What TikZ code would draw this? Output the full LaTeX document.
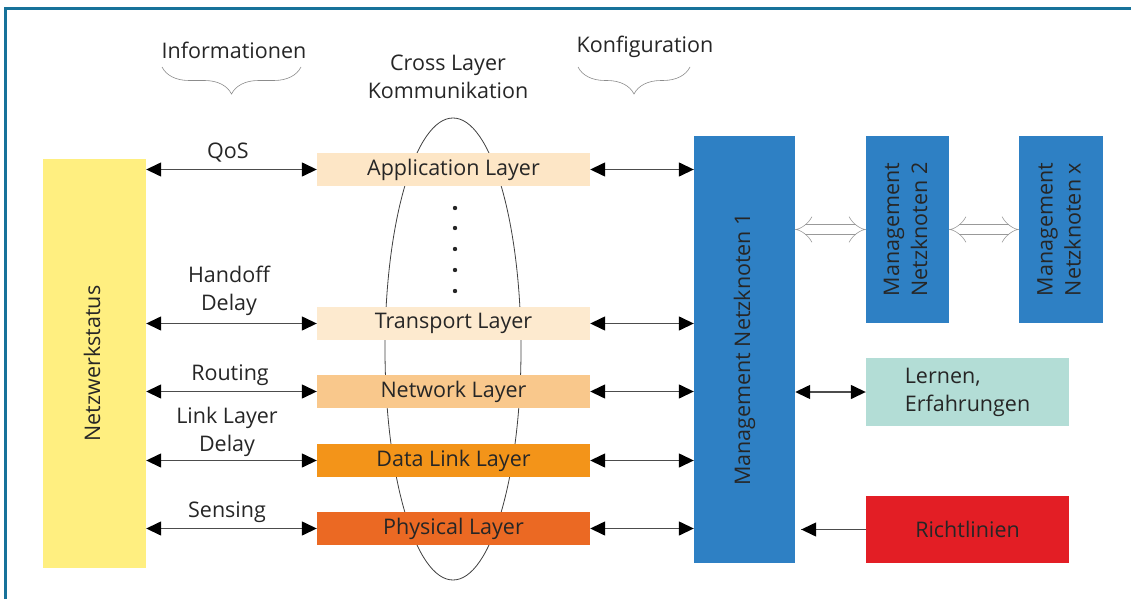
\documentclass[tikz,border=0pt]{standalone}
\usepackage{fontspec}
\setmainfont{Open Sans}
\usetikzlibrary{arrows.meta,decorations.pathreplacing}
\definecolor{framecol}{HTML}{17729A}
\definecolor{statcol}{HTML}{FFEF80}
\definecolor{appcol}{HTML}{FDE6C6}
\definecolor{transcol}{HTML}{FDEACF}
\definecolor{netcol}{HTML}{F9C88C}
\definecolor{linkcol}{HTML}{F39419}
\definecolor{phycol}{HTML}{EB6923}
\definecolor{mgmtcol}{HTML}{2E80C4}
\definecolor{learncol}{HTML}{B3DDD6}
\definecolor{rulecol}{HTML}{E31E25}
\tikzstyle{every node}=[font=\fontsize{21.5}{28}\selectfont, text=black!85]
\tikzstyle{layer}=[inner sep=0pt, minimum width=273pt, minimum height=33pt]
\tikzstyle{arr}=[line width=1.4pt, draw=black!70, {Triangle[length=15pt,width=14pt,black]}-{Triangle[length=15pt,width=14pt,black]}]
\tikzstyle{hollow}=[line width=0.6pt, draw=black!40, double=white, double distance=9pt, {Implies[length=9pt,width=24pt]}-{Implies[length=9pt,width=24pt]}]
\tikzstyle{lbl}=[align=center, inner sep=0pt]
\tikzstyle{brc}=[draw=black!45, line width=0.6pt, decorate, decoration={brace, amplitude=27pt, mirror}]

\begin{document}
\begin{tikzpicture}[x=1pt,y=-1pt]
	\newcommand\vtext[1]{\rotatebox{90}{\begin{tabular}{@{}c@{}}#1\end{tabular}}} %rotated text, one or more lines
	\useasboundingbox (0,0) rectangle (1131,599);
	% Frame
	\draw [framecol, line width=3pt] (5,599) -- (5,9) -- (1131,9);
	% Cross layer ellipse and the dots between the layers
	\draw [black!75, line width=0.8pt] (453,349) ellipse [x radius=68, y radius=231];
	\foreach \dy in {208,228,249,270,291}
		\fill [black!85] (455,\dy) circle (2.2);
	% Network state
	\node [fill=statcol, inner sep=0pt, minimum width=103pt, minimum height=409pt] (stat) at (94.5,363.5) {\vtext{Netzwerkstatus}};
	% Layers
	\node [layer, fill=appcol] (app) at (453.5,169.5) {Application Layer};
	\node [layer, fill=transcol] (trans) at (453.5,323.5) {Transport Layer};
	\node [layer, fill=netcol] (netw) at (453.5,391.5) {Network Layer};
	\node [layer, fill=linkcol] (link) at (453.5,460.5) {Data Link Layer};
	\node [layer, fill=phycol] (phy) at (453.5,528.5) {Physical Layer};
	% Management nodes
	\node [fill=mgmtcol, inner sep=0pt, minimum width=101pt, minimum height=427pt] (mgmt1) at (744.5,349.5) {\vtext{Management Netzknoten 1}};
	\node [fill=mgmtcol, inner sep=0pt, minimum width=83pt, minimum height=187pt] (mgmt2) at (907.5,229.5) {\vtext{Management\\Netzknoten 2}};
	\node [fill=mgmtcol, inner sep=0pt, minimum width=84pt, minimum height=187pt] (mgmtx) at (1061,229.5) {\vtext{Management\\Netzknoten x}};
	\node [fill=learncol, align=left, inner sep=0pt, minimum width=203pt, minimum height=68pt] (learn) at (967.5,392) {Lernen,\\Erfahrungen};
	\node [fill=rulecol, inner sep=0pt, minimum width=203pt, minimum height=67pt] (rules) at (967.5,529.5) {Richtlinien};
	% Information arrows (left side)
	\foreach \ly in {app,trans,netw,link,phy}
		\draw [arr] (stat.east |- \ly.west) -- (\ly.west);
	% Configuration arrows (right side)
	\foreach \ly in {app,trans,netw,link,phy}
		\draw [arr] (\ly.east) -- (mgmt1.west |- \ly.east);
	\draw [hollow] (mgmt1.east |- mgmt2.west) -- (mgmt2.west);
	\draw [hollow] (mgmt2.east) -- (mgmtx.west);
	\draw [arr] (mgmt1.east |- learn.west) -- (learn.west);
	\draw [arr, -] (rules.west) -- ([xshift=6pt]mgmt1.east |- rules.west) coordinate (RTip);
	\draw [arr, {Triangle[length=15pt,width=14pt,black]}-] (RTip) -- ++(20,0);
	% Arrow labels
	\node [lbl] (qos) at (228,153) {QoS};
	\node [lbl] (hand) at (229,291) {Handoff\\Delay};
	\node [lbl] (rout) at (230,375) {Routing};
	\node [lbl] (lld) at (227,432) {Link Layer\\Delay};
	\node [lbl] (sens) at (227,512) {Sensing};
	% Headings
	\node [lbl] (info) at (234,50) {Informationen};
	\node [lbl] (cross) at (448,77) {Cross Layer\\Kommunikation};
	\node [lbl] (konf) at (645,47) {Konfiguration};
	\draw [brc] (162,67) -- (301,67);
	\draw [brc] (578,67) -- (690,67);
\end{tikzpicture}
\end{document}
